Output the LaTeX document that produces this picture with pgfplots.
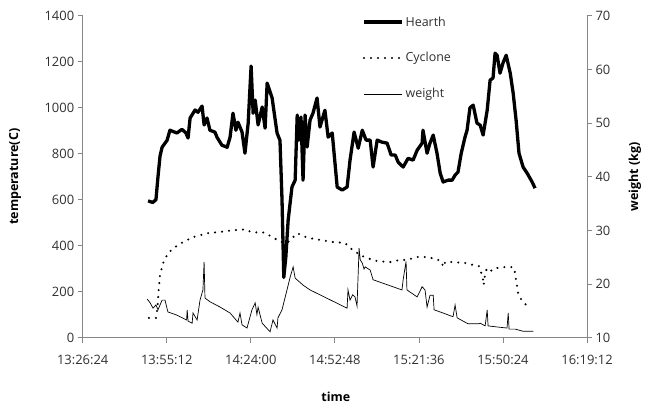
\documentclass[border=0pt]{standalone}
\usepackage{fontspec}
\setmainfont{Open Sans}
\usepackage{pgfplots}
\pgfplotsset{compat=1.18}
\definecolor{axgray}{HTML}{868686}
\definecolor{txt}{HTML}{303030}
\begin{document}
\begin{tikzpicture}
\pgfplotsset{
  every axis/.append style={
    scale only axis, width=504.3bp, height=322bp,
    xmin=0, xmax=172.8,
    axis line style={axgray, line width=0.8bp},
    tick style={axgray, line width=0.8bp},
    tick align=outside, major tick length=5bp,
    tick label style={font=\fontsize{13}{15}\selectfont, text=txt},
    /pgf/number format/assume math mode=true,
    /pgf/number format/1000 sep={},
  }
}
\begin{axis}[name=ax, at={(0,0)}, anchor=south west,
  axis x line*=bottom, axis y line*=left,
  ymin=0, ymax=1400, ytick={0,200,...,1400},
  xtick={0,28.8,57.6,86.4,115.2,144,172.8},
  xticklabels={13:26:24,13:55:12,14:24:00,14:52:48,15:21:36,15:50:24,16:19:12},
  xticklabel style={yshift=-9bp},
  xlabel={time}, ylabel={temperature(C)},
  every axis x label/.style={at={(axis description cs:0.502,-0.184)}, anchor=center, font=\fontsize{12.5}{14}\selectfont\bfseries},
  every axis y label/.style={at={(axis description cs:-0.134,0.5)}, rotate=90, anchor=center, font=\fontsize{12.5}{14}\selectfont\bfseries},
]
\addplot[black, line width=3.3bp, line join=round] coordinates {
(22.4,595)(24.0,588)(25.1,600)(25.8,700)(26.5,790)(27.2,828)(28.9,858)(29.9,902)(32.3,890)(34.0,906)(35.4,890)(36.1,868)(36.8,955)(38.5,990)(39.5,980)(40.9,1007)(41.6,925)(42.6,955)(43.6,902)(45.3,894)(46.0,872)(47.7,837)(49.5,828)(50.5,872)(51.5,976)(52.5,902)(53.2,937)(54.6,894)(55.6,802)(56.7,933)(57.7,1181)(58.4,976)(59.1,1033)(60.1,925)(61.5,1003)(62.5,911)(63.2,1107)(64.9,1042)(66.6,890)(67.6,858)(68.3,598)(68.9,262)(69.6,350)(70.4,511)(71.7,655)(72.8,685)(73.5,968)(74.1,859)(74.8,959)(75.5,685)(76.2,968)(76.9,829)(77.9,946)(78.9,976)(80.3,1042)(81.3,916)(83.0,989)(84.1,872)(85.5,890)(87.2,655)(88.9,642)(90.6,655)(91.6,772)(93.0,894)(94.4,824)(95.8,902)(97.1,859)(98.5,859)(99.5,742)(100.9,859)(102.6,850)(104.3,846)(105.7,794)(107.1,794)(108.1,763)(109.8,742)(111.5,780)(113.2,772)(114.6,815)(116.3,846)(116.6,902)(118.0,802)(119.0,846)(120.1,881)(121.4,802)(122.5,715)(123.5,677)(125.2,685)(126.6,685)(127.6,707)(128.6,720)(129.7,802)(131.0,872)(131.7,902)(132.7,1000)(133.8,1011)(135.1,933)(136.2,924)(137.2,881)(138.6,989)(139.6,1120)(140.6,1129)(141.3,1237)(142.0,1228)(143.0,1150)(144.0,1194)(145.1,1228)(146.5,1150)(147.5,1063)(148.5,946)(149.5,802)(150.9,742)(152.3,715)(154.0,677)(155.0,650)
};
\addplot[black, line width=2.3bp, line cap=round, dash pattern=on 0bp off 7bp] coordinates {
(22.7,86)(25.1,86)(25.5,120)(25.8,163)(26.1,220)(26.5,272)(27.5,323)(29.2,367)(31.6,394)(34.4,416)(37.8,437)(42.6,454)(47.1,460)(51.5,467)(55.6,471)(58.0,458)(61.8,458)(65.2,437)(67.6,416)(70.4,416)(73.5,454)(76.9,435)(81.3,425)(85.8,416)(89.9,412)(91.6,390)(95.1,359)(97.5,346)(100.9,333)(105.4,329)(108.7,338)(111.1,338)(114.6,351)(118.0,351)(121.4,341)(123.1,329)(123.5,307)(124.2,329)(126.9,329)(131.7,324)(133.8,316)(135.8,311)(136.5,285)(137.2,251)(137.4,229)(137.9,281)(138.6,303)(140.3,290)(142.0,303)(144.0,307)(147.5,307)(148.2,281)(148.5,251)(148.9,220)(149.2,194)(150.2,168)(151.6,146)(153.3,133)
};
\end{axis}
\begin{axis}[at={(0,0)}, anchor=south west,
  axis y line*=right, axis x line=none,
  ymin=10, ymax=70, ytick={10,20,...,70},
  ylabel={weight (kg)},
  every axis y label/.style={at={(axis description cs:1.095,0.5)}, rotate=90, anchor=center, font=\fontsize{12.5}{14}\selectfont\bfseries},
  legend image code/.code={\draw[#1] (0bp,0bp) -- (38bp,0bp);},
  legend style={draw=none, fill=none, at={(axis description cs:0.554,0.8686)}, anchor=west,
    row sep=21bp, inner sep=0pt, font=\fontsize{12.5}{14}\selectfont, text=txt},
  legend cell align=left,
]
\addlegendimage{black, line width=3.3bp}
\addlegendentry{Hearth}
\addlegendimage{black, line width=2.3bp, line cap=round, dash pattern=on 0bp off 7bp}
\addlegendentry{Cyclone}
\addplot[black, line width=0.7bp] coordinates {
(22.1,17.2)(23.1,16.5)(24.1,15.5)(25.1,16.1)(25.8,15.2)(27.2,17.0)(28.2,17.0)(29.2,14.8)(32.3,14.2)(35.6,13.3)(35.8,15.2)(36.1,13.1)(37.5,12.7)(37.8,14.6)(39.2,13.3)(40.2,17.0)(41.2,18.9)(41.6,24.1)(41.9,17.4)(43.6,16.7)(47.1,15.7)(50.5,14.6)(53.2,12.9)(53.9,14.6)(54.6,12.4)(56.3,11.8)(58.0,15.2)(59.1,16.5)(59.7,14.3)(60.1,15.7)(61.5,12.7)(64.2,11.1)(65.2,13.3)(66.6,11.8)(66.9,13.7)(68.3,15.2)(70.0,18.9)(71.1,21.3)(72.1,23.2)(72.8,21.1)(75.5,19.8)(77.9,18.9)(90.6,15.5)(90.9,18.9)(91.6,17.0)(92.5,18.0)(93.3,17.6)(94.0,15.9)(94.7,26.7)(95.1,24.5)(95.8,23.9)(96.4,22.8)(96.8,23.2)(98.5,22.6)(99.5,20.8)(109.4,18.9)(109.8,20.8)(110.8,24.2)(111.1,18.9)(114.6,17.6)(116.3,19.5)(117.3,18.9)(118.0,15.7)(119.0,17.9)(120.1,17.9)(120.4,15.2)(123.5,14.6)(126.9,13.9)(127.6,16.1)(128.3,13.7)(132.0,12.6)(135.8,12.6)(136.2,12.7)(137.9,12.2)(138.6,15.2)(138.9,12.2)(142.0,12.0)(145.4,11.8)(145.8,14.6)(146.1,11.6)(148.2,11.6)(150.9,11.2)(154.4,11.2)
};
\addlegendentry{weight}
\end{axis}
\pgfresetboundingbox
\path ([shift={(-82.7bp,-70.3bp)}]ax.south west) rectangle ++(648bp,408bp);
\end{tikzpicture}
\end{document}
